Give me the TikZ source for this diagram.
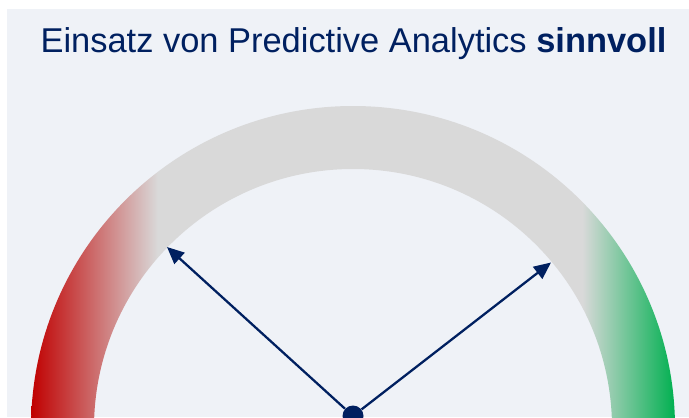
\documentclass[tikz,border=0pt]{standalone}
\usepackage{fontspec}
\setmainfont{Liberation Sans}
\usetikzlibrary{arrows.meta}
\definecolor{panelgray}{RGB}{239,242,247}
\definecolor{bandgray}{RGB}{217,217,217}
\definecolor{lowred}{RGB}{192,0,0}
\definecolor{highgreen}{RGB}{0,176,80}
\definecolor{gaugenavy}{RGB}{0,32,96}
\pgfdeclarehorizontalshading{gaugefade}{100bp}{color(0bp)=(lowred); color(25bp)=(lowred);
  color(34.85bp)=(bandgray); color(67.8bp)=(bandgray); color(75bp)=(highgreen); color(100bp)=(highgreen)}
\tikzset{
  heading/.style={
    font=\fontsize{19.6}{23}\selectfont,
    text=gaugenavy,
    anchor=base,
    inner sep=0pt
  },
  needle/.style={
    -{Triangle[length=0.34cm,width=0.3cm]},
    line width=1.3pt,
    draw=gaugenavy
  },
  hub/.style={
    circle,
    fill=gaugenavy,
    minimum size=0.42cm,
    inner sep=0pt
  }
}

\begin{document}
\begin{tikzpicture}[x=0.02cm, y=0.02cm]
  \useasboundingbox (0,0) rectangle (689,417);
  \fill[panelgray] (7,0) rectangle (689,408);
  \node[heading] (title) at (353.5,365) {Einsatz von Predictive Analytics \textbf{sinnvoll}};

  % half ring, red to grey to green
  \shade[shading=gaugefade] (675,-11) arc[start angle=0, end angle=180, radius=322]
    -- (94,-11) arc[start angle=180, end angle=0, radius=259] -- cycle;

  \node[hub] (hub) at (353,1) {};
  \coordinate (lowtip) at (167,170);
  \coordinate (hightip) at (551,154.5);
  \draw[needle] (hub) -- (lowtip);
  \draw[needle] (hub) -- (hightip);
\end{tikzpicture}
\end{document}
